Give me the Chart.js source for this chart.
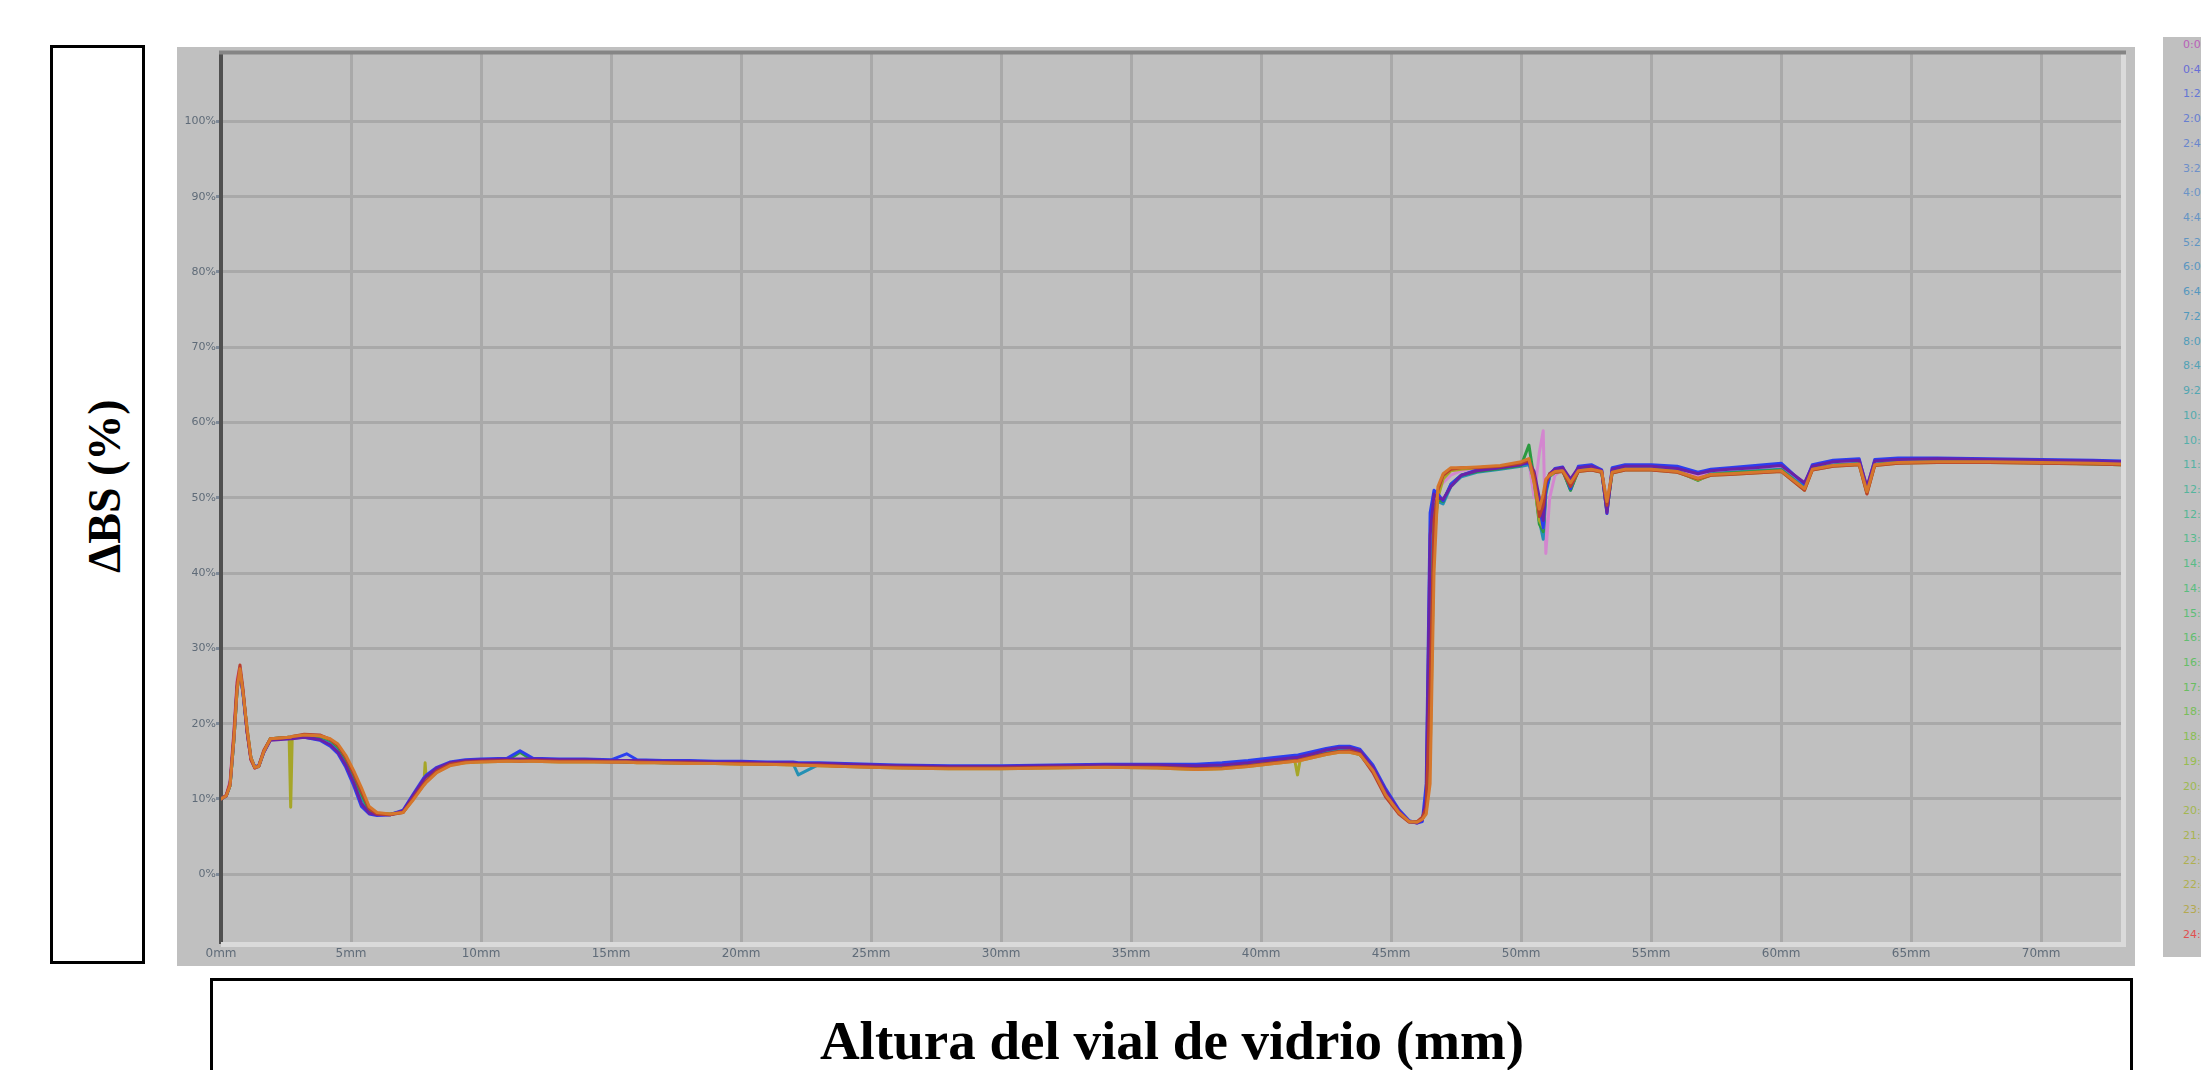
<!DOCTYPE html>
<html>
<head>
<meta charset="utf-8">
<script src="https://cdn.jsdelivr.net/npm/chart.js@4.4.1/dist/chart.umd.min.js"></script>
<style>
  html, body { margin: 0; padding: 0; background: #ffffff; width: 2201px; height: 1070px; overflow: hidden; position: relative; }
  #panel { position: absolute; left: 177px; top: 47px; width: 1958px; height: 919px; background: #c0c0c0; }
  #chart { position: absolute; left: 0; top: 0; }
  #ybox { position: absolute; left: 50px; top: 45px; width: 95px; height: 919px; box-sizing: border-box; border: 3px solid #000; background: #fff; }
  #ylabel { position: absolute; left: 104px; top: 486px; transform: translate(-50%, -50%) rotate(-90deg); font: bold 46px "Liberation Serif", "DejaVu Serif", serif; color: #000; white-space: nowrap; }
  #xbox { position: absolute; left: 210px; top: 978px; width: 1923px; height: 140px; box-sizing: border-box; border: 3px solid #000; background: #fff; }
  #xlabel { position: absolute; left: 1172px; top: 1040px; transform: translate(-50%, -50%); font: bold 55px "Liberation Serif", "DejaVu Serif", serif; color: #000; white-space: nowrap; }
  #legend { position: absolute; left: 2163px; top: 37px; width: 80px; height: 920px; background: #c0c0c0; box-sizing: border-box; padding-top: 1px; }
  #legend div { height: 24.72px; line-height: 24.72px; padding-left: 20px; font: 11px "DejaVu Sans", sans-serif; white-space: nowrap; }
</style>
</head>
<body>
<div id="ybox"></div>
<div id="ylabel">ΔBS (%)</div>
<div id="panel"><canvas id="chart" width="1958" height="919"></canvas></div>
<div id="legend"></div>
<div id="xbox"></div>
<div id="xlabel">Altura del vial de vidrio (mm)</div>
<script>
// ---------- DATA ----------
const X_MM = [
  0, 0.2, 0.35, 0.5, 0.62, 0.73, 0.85, 1.0, 1.15, 1.3,
  1.45, 1.65, 1.9, 2.3, 2.62, 2.68, 2.74, 3.2, 3.8, 4.2,
  4.5, 4.8, 5.1, 5.4, 5.7, 6.0, 6.5, 7.0, 7.4, 7.8,
  7.85, 7.9, 8.3, 8.8, 9.4, 10, 11, 11.5, 12, 13,
  14, 15, 15.6, 16, 17, 18, 19, 20, 21, 22,
  22.2, 23, 24, 26, 28, 30, 32, 34, 36, 37.5,
  38.5, 39.5, 40.5, 41.3, 41.4, 41.5, 42, 42.5, 43, 43.4,
  43.8, 44.3, 44.8, 45.3, 45.7, 46.0, 46.2, 46.35, 46.5, 46.65,
  46.8, 47.0, 47.3, 47.7, 48.3, 49.2, 50.0, 50.3, 50.5, 50.7,
  50.85, 50.95, 51.1, 51.3, 51.6, 51.9, 52.2, 52.7, 53.1, 53.3,
  53.5, 54.0, 55.0, 56.0, 56.8, 57.3, 58.0, 59.0, 60.0, 60.9,
  61.2, 62.0, 63.0, 63.3, 63.6, 64.5, 66, 68, 70, 72,
  73.1
];

const BS_ORANGE = [
  10.0, 10.4, 11.8, 18.0, 24.5, 27.3, 24.0, 19.5, 15.5, 14.2,
  14.3, 16.3, 18.0, 18.1, 18.2, 18.2, 18.3, 18.5, 18.4, 18.0,
  17.3, 15.8, 13.8, 11.5, 9.0, 8.2, 8.0, 8.2, 9.9, 11.8,
  12.0, 12.2, 13.5, 14.4, 14.8, 14.9, 15.0, 15.0, 15.0, 14.9,
  14.9, 14.9, 14.9, 14.8, 14.8, 14.7, 14.7, 14.6, 14.6, 14.5,
  14.5, 14.4, 14.3, 14.1, 14.0, 14.0, 14.1, 14.2, 14.1, 13.9,
  14.0, 14.3, 14.7, 15.0, 15.0, 15.1, 15.5, 15.9, 16.2, 16.2,
  15.9, 13.8, 10.5, 8.2, 7.0, 6.9, 7.3, 8.0, 12.0, 40.0,
  51.5, 53.2, 54.0, 54.0, 54.1, 54.3, 54.8, 55.2, 52.0, 48.5,
  50.5, 52.5, 53.0, 53.5, 53.6, 52.0, 53.6, 53.8, 53.5, 49.5,
  53.4, 53.8, 53.8, 53.5, 52.6, 53.1, 53.2, 53.4, 53.6, 51.2,
  53.8, 54.3, 54.5, 50.8, 54.4, 54.7, 54.8, 54.8, 54.7, 54.6,
  54.5
];

const BS_RED = [
  10.0, 10.5, 12.2, 19.0, 25.5, 27.8, 24.5, 19.0, 15.2, 14.1,
  14.4, 16.5, 18.0, 18.1, 18.2, 18.2, 18.3, 18.6, 18.5, 17.9,
  17.1, 15.5, 13.4, 11.0, 8.7, 8.0, 7.9, 8.2, 10.1, 12.0,
  12.2, 12.4, 13.7, 14.6, 14.9, 15.0, 15.1, 15.0, 15.1, 15.0,
  15.0, 14.9, 14.9, 14.9, 14.8, 14.8, 14.7, 14.7, 14.6, 14.6,
  14.5, 14.5, 14.3, 14.2, 14.1, 14.1, 14.2, 14.2, 14.2, 14.0,
  14.1, 14.4, 14.8, 15.1, 15.1, 15.2, 15.6, 16.0, 16.3, 16.4,
  16.0, 13.5, 10.2, 8.0, 6.9, 7.0, 7.6, 8.8, 25.0, 47.0,
  51.0, 53.0, 53.8, 54.0, 54.0, 54.2, 54.6, 55.0, 53.0, 47.5,
  49.0, 52.0, 53.2, 53.4, 53.5, 51.5, 53.5, 53.7, 53.4, 49.0,
  53.3, 53.7, 53.7, 53.4, 52.5, 53.0, 53.1, 53.3, 53.5, 51.0,
  53.7, 54.2, 54.4, 50.5, 54.3, 54.6, 54.7, 54.7, 54.6, 54.5,
  54.4
];

const BS_PURPLE = [
  10.0, 10.4, 12.0, 18.5, 25.0, 27.0, 24.0, 19.0, 15.3, 14.2,
  14.3, 16.2, 17.8, 17.9, 18.0, 18.0, 18.0, 18.2, 17.9, 17.2,
  16.2, 14.5, 12.2, 9.4, 8.1, 7.9, 7.9, 8.4, 10.5, 12.6,
  12.8, 13.0, 14.1, 14.8, 15.1, 15.2, 15.3, 15.3, 15.3, 15.2,
  15.2, 15.1, 15.1, 15.1, 15.0, 15.0, 14.9, 14.9, 14.8, 14.8,
  14.7, 14.7, 14.6, 14.4, 14.3, 14.3, 14.4, 14.5, 14.5, 14.4,
  14.5, 14.8, 15.2, 15.5, 15.5, 15.6, 16.0, 16.5, 16.8, 16.8,
  16.4, 14.2, 11.0, 8.4, 7.0, 6.8, 7.2, 10.0, 45.0, 50.5,
  50.0, 49.8, 51.5, 53.0, 53.6, 54.0, 54.4, 54.8, 53.5, 50.0,
  47.0, 52.0, 53.2, 53.8, 54.0, 52.5, 54.0, 54.2, 53.6, 48.0,
  53.8, 54.2, 54.2, 53.9, 53.2, 53.6, 53.8, 54.0, 54.3, 52.0,
  54.2, 54.8, 55.0, 51.5, 54.9, 55.1, 55.2, 55.1, 55.0, 54.9,
  54.8
];

const BS_BLUE = [
  10.0, 10.4, 11.9, 18.2, 24.8, 27.0, 23.8, 19.0, 15.4, 14.3,
  14.4, 16.3, 17.9, 18.0, 18.0, 18.1, 18.1, 18.2, 17.8, 17.0,
  16.0, 14.2, 11.8, 9.0, 8.0, 7.8, 7.9, 8.5, 10.7, 12.8,
  13.0, 13.2, 14.2, 14.9, 15.2, 15.3, 15.4, 16.4, 15.4, 15.3,
  15.3, 15.2, 16.0, 15.2, 15.1, 15.1, 15.0, 15.0, 14.9, 14.9,
  14.8, 14.8, 14.7, 14.5, 14.4, 14.4, 14.5, 14.6, 14.6, 14.6,
  14.8, 15.1, 15.5, 15.8, 15.8, 15.9, 16.3, 16.7, 17.0, 17.0,
  16.6, 14.5, 11.3, 8.6, 7.1, 6.8, 7.0, 12.0, 48.0, 51.0,
  50.5, 49.6, 51.8, 53.0, 53.7, 54.1, 54.5, 54.6, 53.0, 49.0,
  46.0, 51.0, 53.0, 53.9, 54.1, 51.2, 54.2, 54.4, 53.7, 47.9,
  54.0, 54.4, 54.4, 54.2, 53.4, 53.8, 54.0, 54.3, 54.6, 51.8,
  54.4, 55.0, 55.2, 51.2, 55.1, 55.3, 55.3, 55.2, 55.1, 55.0,
  54.9
];

const BS_TEAL = [
  10.0, 10.4, 11.8, 18.0, 24.6, 27.2, 24.0, 19.2, 15.4, 14.2,
  14.3, 16.3, 18.0, 18.1, 18.1, 18.1, 18.2, 18.4, 18.2, 17.6,
  16.7, 15.0, 12.8, 10.2, 8.3, 8.0, 7.9, 8.3, 10.3, 12.3,
  12.5, 12.7, 13.9, 14.7, 15.0, 15.1, 15.2, 15.2, 15.2, 15.1,
  15.1, 15.0, 15.0, 15.0, 14.9, 14.9, 14.8, 14.8, 14.7, 14.7,
  13.2, 14.6, 14.5, 14.3, 14.2, 14.2, 14.3, 14.4, 14.3, 14.2,
  14.3, 14.6, 15.0, 15.3, 15.3, 15.4, 15.8, 16.2, 16.5, 16.5,
  16.1, 14.0, 10.8, 8.3, 7.0, 6.9, 7.3, 9.0, 35.0, 49.0,
  49.5, 49.2, 51.5, 52.8, 53.4, 53.8, 54.2, 54.4, 52.5, 47.0,
  44.5, 50.5, 52.8, 53.4, 53.6, 51.0, 53.7, 53.9, 53.4, 48.5,
  53.5, 53.9, 53.9, 53.6, 52.4, 53.2, 53.4, 53.6, 53.8, 51.4,
  53.9, 54.4, 54.6, 50.9, 54.5, 54.8, 54.9, 54.9, 54.8, 54.6,
  54.5
];

const BS_GREEN = [
  10.0, 10.4, 11.8, 18.0, 24.6, 27.2, 24.0, 19.3, 15.5, 14.2,
  14.3, 16.3, 18.0, 18.1, 18.2, 18.2, 18.2, 18.4, 18.3, 17.8,
  16.9, 15.3, 13.2, 10.7, 8.5, 8.1, 8.0, 8.3, 10.1, 12.1,
  12.3, 12.5, 13.8, 14.6, 14.9, 15.0, 15.1, 16.2, 15.1, 15.0,
  15.0, 15.0, 14.9, 14.9, 14.8, 14.8, 14.7, 14.7, 14.6, 14.6,
  14.5, 14.5, 14.4, 14.2, 14.1, 14.1, 14.2, 14.3, 14.2, 14.0,
  14.1, 14.4, 14.8, 15.1, 15.1, 15.2, 15.6, 16.0, 16.3, 16.3,
  15.9, 13.8, 10.6, 8.2, 7.0, 6.9, 7.4, 8.5, 22.0, 46.0,
  49.8, 49.5, 51.8, 53.0, 53.5, 53.9, 54.3, 57.0, 52.5, 46.5,
  45.5, 51.0, 52.9, 53.4, 53.6, 51.0, 53.6, 53.8, 53.4, 48.2,
  53.4, 53.8, 53.8, 53.5, 52.3, 53.1, 53.3, 53.5, 53.7, 51.2,
  53.8, 54.3, 54.5, 50.7, 54.4, 54.7, 54.8, 54.8, 54.7, 54.5,
  54.4
];

const BS_OLIVE = [
  10.0, 10.4, 11.8, 18.0, 24.5, 27.2, 24.2, 19.4, 15.5, 14.2,
  14.3, 16.3, 18.0, 18.1, 18.2, 8.9, 18.3, 18.5, 18.4, 17.9,
  17.1, 15.6, 13.6, 11.2, 8.8, 8.1, 8.0, 8.2, 10.0, 11.9,
  14.8, 12.3, 13.6, 14.5, 14.8, 14.9, 15.0, 15.0, 15.0, 14.9,
  14.9, 14.9, 14.9, 14.8, 14.8, 14.7, 14.7, 14.6, 14.6, 14.5,
  14.5, 14.4, 14.3, 14.1, 14.0, 14.0, 14.1, 14.2, 14.1, 13.9,
  14.0, 14.3, 14.7, 15.0, 13.2, 15.1, 15.5, 15.9, 16.2, 16.2,
  15.9, 13.8, 10.5, 8.1, 7.0, 6.9, 7.3, 8.2, 15.0, 44.0,
  50.0, 52.5, 53.6, 53.8, 54.0, 54.2, 54.6, 55.0, 52.0, 47.0,
  46.0, 51.5, 52.9, 53.4, 53.5, 51.5, 53.5, 53.7, 53.4, 48.5,
  53.3, 53.7, 53.7, 53.4, 52.4, 53.0, 53.1, 53.3, 53.5, 51.0,
  53.7, 54.2, 54.4, 50.6, 54.3, 54.6, 54.7, 54.7, 54.6, 54.5,
  54.4
];

const BS_PINK = [
  10.0, 10.5, 12.5, 19.5, 26.0, 27.6, 24.5, 19.0, 15.2, 14.1,
  14.3, 16.4, 18.0, 18.1, 18.2, 18.2, 18.3, 18.5, 18.3, 17.5,
  16.6, 14.9, 12.6, 9.8, 8.2, 7.9, 7.9, 8.3, 10.3, 12.3,
  12.5, 12.7, 13.9, 14.7, 15.0, 15.1, 15.2, 15.2, 15.2, 15.1,
  15.1, 15.0, 15.0, 15.0, 14.9, 14.9, 14.8, 14.8, 14.7, 14.7,
  14.6, 14.6, 14.5, 14.3, 14.2, 14.2, 14.3, 14.4, 14.3, 14.2,
  14.3, 14.6, 15.0, 15.3, 15.3, 15.4, 15.8, 16.2, 16.5, 16.5,
  16.1, 14.0, 10.8, 8.3, 7.0, 6.9, 7.3, 9.0, 40.0, 50.0,
  51.0, 52.0, 53.0, 53.6, 54.0, 54.2, 54.6, 54.8, 50.0, 56.0,
  58.9, 42.6, 50.0, 53.0, 53.8, 52.0, 53.8, 54.0, 53.5, 49.0,
  53.6, 54.0, 54.0, 53.7, 52.8, 53.3, 53.5, 53.7, 53.9, 51.5,
  54.0, 54.5, 54.7, 51.0, 54.6, 54.9, 55.0, 55.0, 54.9, 54.7,
  54.6
];

const Y_TICKS = [0, 10, 20, 30, 40, 50, 60, 70, 80, 90, 100];
const X_TICKS = [0, 5, 10, 15, 20, 25, 30, 35, 40, 45, 50, 55, 60, 65, 70];

const LEGEND_LABELS = [
  "0:00:00", "0:40:00", "1:20:00", "2:00:00", "2:40:00", "3:20:00", "4:00:00", "4:40:00",
  "5:20:00", "6:00:00", "6:40:00", "7:20:00", "8:00:00", "8:40:00", "9:20:00", "10:00:00",
  "10:40:00", "11:20:00", "12:00:00", "12:40:00", "13:20:00", "14:00:00", "14:40:00", "15:20:00",
  "16:00:00", "16:40:00", "17:20:00", "18:00:00", "18:40:00", "19:20:00", "20:00:00", "20:40:00",
  "21:20:00", "22:00:00", "22:40:00", "23:20:00", "24:00:00"
];

// ---------- STYLE ----------
const SERIES = [
  { name: "orange", values: BS_ORANGE, color: "#d5772c" },
  { name: "red",    values: BS_RED,    color: "#b8402e" },
  { name: "purple", values: BS_PURPLE, color: "#6a22a6" },
  { name: "blue",   values: BS_BLUE,   color: "#2b3ff0" },
  { name: "olive",  values: BS_OLIVE,  color: "#a6a628" },
  { name: "green",  values: BS_GREEN,  color: "#2c9a40" },
  { name: "teal",   values: BS_TEAL,   color: "#2490b4" },
  { name: "pink",   values: BS_PINK,   color: "#d386cf" }
];

// legend colour ramp (style only)
const RAMP = [
  [0.00, [184, 96, 184]], [0.03, [96, 110, 216]], [0.15, [110, 146, 200]],
  [0.30, [80, 152, 190]], [0.45, [84, 176, 170]], [0.60, [88, 190, 130]],
  [0.72, [104, 190, 96]], [0.80, [150, 190, 80]], [0.92, [176, 176, 80]],
  [0.97, [176, 176, 80]], [1.00, [224, 80, 80]]
];
function rampColor(t) {
  for (let i = 1; i < RAMP.length; i++) {
    if (t <= RAMP[i][0]) {
      const a = RAMP[i - 1], b = RAMP[i];
      const f = (t - a[0]) / (b[0] - a[0] || 1);
      const c = a[1].map((v, k) => Math.round(v + (b[1][k] - v) * f));
      return `rgb(${c[0]},${c[1]},${c[2]})`;
    }
  }
  return "rgb(224,80,80)";
}
const legendEl = document.getElementById("legend");
LEGEND_LABELS.forEach((lab, i) => {
  const d = document.createElement("div");
  d.textContent = lab;
  d.style.color = rampColor(i / (LEGEND_LABELS.length - 1));
  legendEl.appendChild(d);
});

const datasets = SERIES.map(s => ({
  label: s.name,
  data: X_MM.map((x, i) => ({ x: x, y: s.values[i] })),
  borderColor: s.color,
  backgroundColor: s.color,
  borderWidth: 3,
  pointRadius: 0,
  tension: 0,
  fill: false,
  borderJoinStyle: "round",
  borderCapStyle: "round"
}));

const framePlugin = {
  id: "frame",
  afterDraw(chart) {
    const { ctx, chartArea: a } = chart;
    ctx.save();
    ctx.strokeStyle = "#dadada";
    ctx.lineWidth = 5;
    ctx.beginPath();
    ctx.moveTo(a.left, a.bottom + 2.5);
    ctx.lineTo(a.right + 2.5, a.bottom + 2.5);
    ctx.lineTo(a.right + 2.5, a.top);
    ctx.stroke();
    ctx.strokeStyle = "#858585";
    ctx.lineWidth = 4;
    ctx.beginPath();
    ctx.moveTo(a.left - 2, a.top - 1);
    ctx.lineTo(a.right + 5, a.top - 1);
    ctx.stroke();
    ctx.restore();
  }
};

new Chart(document.getElementById("chart"), {
  type: "line",
  data: { datasets: datasets },
  options: {
    responsive: false,
    animation: false,
    devicePixelRatio: 1,
    layout: { padding: { top: 5, right: 14, left: 0, bottom: 0 } },
    plugins: { legend: { display: false }, tooltip: { enabled: false } },
    scales: {
      x: {
        type: "linear",
        min: 0,
        max: 73.07,
        afterBuildTicks: (scale) => { scale.ticks = X_TICKS.map(v => ({ value: v })); },
        afterFit: (scale) => { scale.height = 24; },
        grid: { color: "#a9a9a9", lineWidth: 3, drawTicks: false },
        border: { display: false },
        ticks: {
          autoSkip: false, maxRotation: 0, padding: 5,
          color: "#5f6b78",
          font: { family: "DejaVu Sans", size: 12 },
          callback: (v) => v + "mm"
        }
      },
      y: {
        type: "linear",
        min: -9,
        max: 109,
        afterBuildTicks: (scale) => { scale.ticks = Y_TICKS.map(v => ({ value: v })); },
        afterFit: (scale) => { scale.width = 44; },
        grid: { color: "#a9a9a9", lineWidth: 3, drawTicks: true, tickLength: 5, tickColor: "#7f8a98" },
        border: { display: true, color: "#505050", width: 4 },
        ticks: {
          autoSkip: false, padding: 0,
          color: "#5f6b78",
          font: { family: "DejaVu Sans", size: 11 },
          callback: (v) => v + "%"
        }
      }
    }
  },
  plugins: [framePlugin]
});
</script>
</body>
</html>
